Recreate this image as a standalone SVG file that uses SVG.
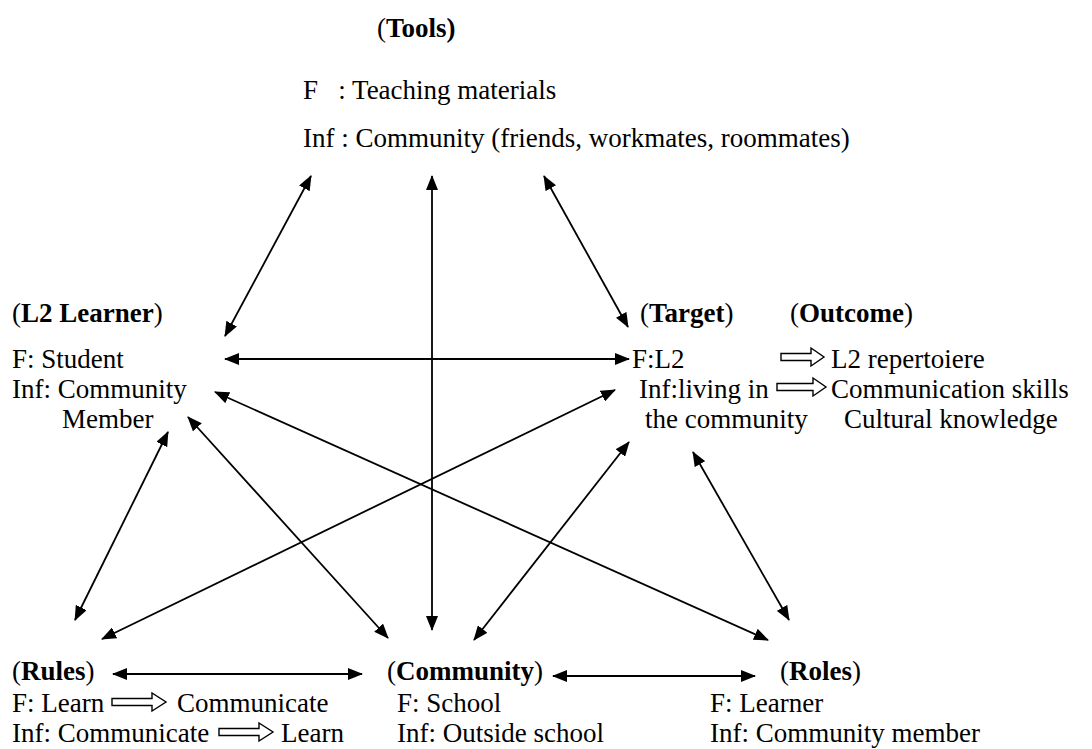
<svg xmlns="http://www.w3.org/2000/svg" width="1092" height="749" viewBox="0 0 1092 749">
<style>
text{font-family:"Liberation Serif","Times New Roman",serif;font-size:27px;fill:#000;white-space:pre}
.b{font-weight:bold}
.c{stroke:#000;stroke-width:1.8;fill:none;marker-start:url(#ah);marker-end:url(#ah)}
.h{fill:#fff;stroke:#000;stroke-width:1.4}
</style>
<defs>
<marker id="ah" viewBox="0 0 15 12" refX="14" refY="6" markerWidth="15" markerHeight="12" orient="auto-start-reverse" markerUnits="userSpaceOnUse"><path d="M0,0 L15,6 L0,12 Z" fill="#000"/></marker>
</defs>
<rect width="1092" height="749" fill="#fff"/>
<g id="tools">
<text x="377" y="37">(<tspan class="b">Tools)</tspan></text>
<text x="303" y="99" xml:space="preserve">F   : Teaching materials</text>
<text x="303" y="147">Inf : Community (friends, workmates, roommates)</text>
</g>
<g id="learner">
<text x="12" y="322">(<tspan class="b">L2 Learner</tspan>)</text>
<text x="12" y="368">F: Student</text>
<text x="12" y="398">Inf: Community</text>
<text x="62" y="428">Member</text>
</g>
<g id="target">
<text x="640" y="322">(<tspan class="b">Target</tspan>)</text>
<text x="632" y="368">F:L2</text>
<text x="639" y="398">Inf:living in</text>
<text x="645" y="428">the community</text>
<path class="h" d="M781,353.5 H811 V348 L824,357 L811,366 V360.5 H781 Z"/>
<path class="h" d="M777,383.5 H813 V378 L826,387 L813,396 V390.5 H777 Z"/>
</g>
<g id="outcome">
<text x="790" y="322">(<tspan class="b">Outcome</tspan>)</text>
<text x="831" y="368">L2 repertoiere</text>
<text x="831" y="398">Communication skills</text>
<text x="844" y="428">Cultural knowledge</text>
</g>
<g id="rules">
<text x="12" y="680">(<tspan class="b">Rules</tspan>)</text>
<text x="12" y="712">F: Learn</text>
<path class="h" d="M112,698.5 H152 V693 L166,702 L152,711 V705.5 H112 Z"/>
<text x="177" y="712">Communicate</text>
<text x="12" y="742">Inf: Communicate</text>
<path class="h" d="M219,728.5 H259 V723 L273,732 L259,741 V735.5 H219 Z"/>
<text x="281" y="742">Learn</text>
</g>
<g id="community">
<text x="387" y="680">(<tspan class="b">Community</tspan>)</text>
<text x="397" y="712">F: School</text>
<text x="397" y="742">Inf: Outside school</text>
</g>
<g id="roles">
<text x="780" y="680">(<tspan class="b">Roles</tspan>)</text>
<text x="710" y="712">F: Learner</text>
<text x="710" y="742">Inf: Community member</text>
</g>
<g id="connectors">
<line class="c" x1="311" y1="176" x2="225" y2="336"/>
<line class="c" x1="432" y1="176" x2="432" y2="630"/>
<line class="c" x1="544" y1="176" x2="628" y2="327"/>
<line class="c" x1="225" y1="359" x2="629" y2="359"/>
<line class="c" x1="168" y1="432" x2="75" y2="620"/>
<line class="c" x1="188" y1="417" x2="388" y2="638"/>
<line class="c" x1="215" y1="392" x2="768" y2="640"/>
<line class="c" x1="615" y1="390" x2="102" y2="639"/>
<line class="c" x1="629" y1="442" x2="474" y2="640"/>
<line class="c" x1="693" y1="452" x2="789" y2="620"/>
<line class="c" x1="113" y1="674" x2="362" y2="674"/>
<line class="c" x1="553" y1="676" x2="755" y2="676"/>
</g>
</svg>
